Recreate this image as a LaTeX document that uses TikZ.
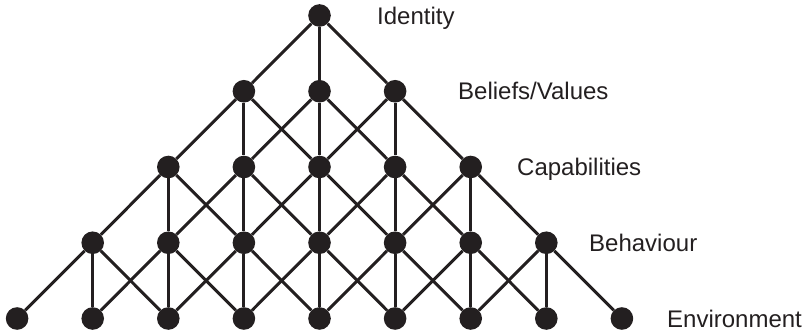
\documentclass[tikz,border=0pt]{standalone}
\usepackage{fontspec}
\setmainfont{Liberation Sans}
\definecolor{ink}{HTML}{231F20}
\begin{document}
\begin{tikzpicture}[x=1pt,y=1pt,
  link/.style={draw=ink, line width=3pt},
  dot/.style={circle, fill=ink, minimum size=22.6pt, inner sep=0pt},
  lvl/.style={anchor=base west, inner sep=0pt, text=ink, font=\fontsize{24}{28}\selectfont}]
\useasboundingbox (0,0) rectangle (804,334);

% lattice of dots: row i holds 2i+1 dots
\foreach \i in {0,...,4} {
  \pgfmathtruncatemacro\n{2*\i}
  \foreach \j in {0,...,\n} {
    \node[dot] (n-\i-\j) at ({319.5+(\j-\i)*75.6},{318.5-\i*75.75}) {};
  }
}

% each dot links to the three dots below it
\foreach \i in {0,...,3} {
  \pgfmathtruncatemacro\n{2*\i}
  \pgfmathtruncatemacro\k{\i+1}
  \foreach \j in {0,...,\n} {
    \pgfmathtruncatemacro\a{\j+1}
    \pgfmathtruncatemacro\b{\j+2}
    \draw[link] (n-\i-\j) -- (n-\k-\j);
    \draw[link] (n-\i-\j) -- (n-\k-\a);
    \draw[link] (n-\i-\j) -- (n-\k-\b);
  }
}

% level names
\node[lvl] (l0) at (377,{318.5-8.6}) {Identity};
\node[lvl] (l1) at (458,{318.5-75.75-8.6}) {Beliefs/Values};
\node[lvl] (l2) at (517,{318.5-2*75.75-8.6}) {Capabilities};
\node[lvl] (l3) at (589,{318.5-3*75.75-8.6}) {Behaviour};
\node[lvl] (l4) at (667,{318.5-4*75.75-8.6}) {Environment};
\end{tikzpicture}
\end{document}
